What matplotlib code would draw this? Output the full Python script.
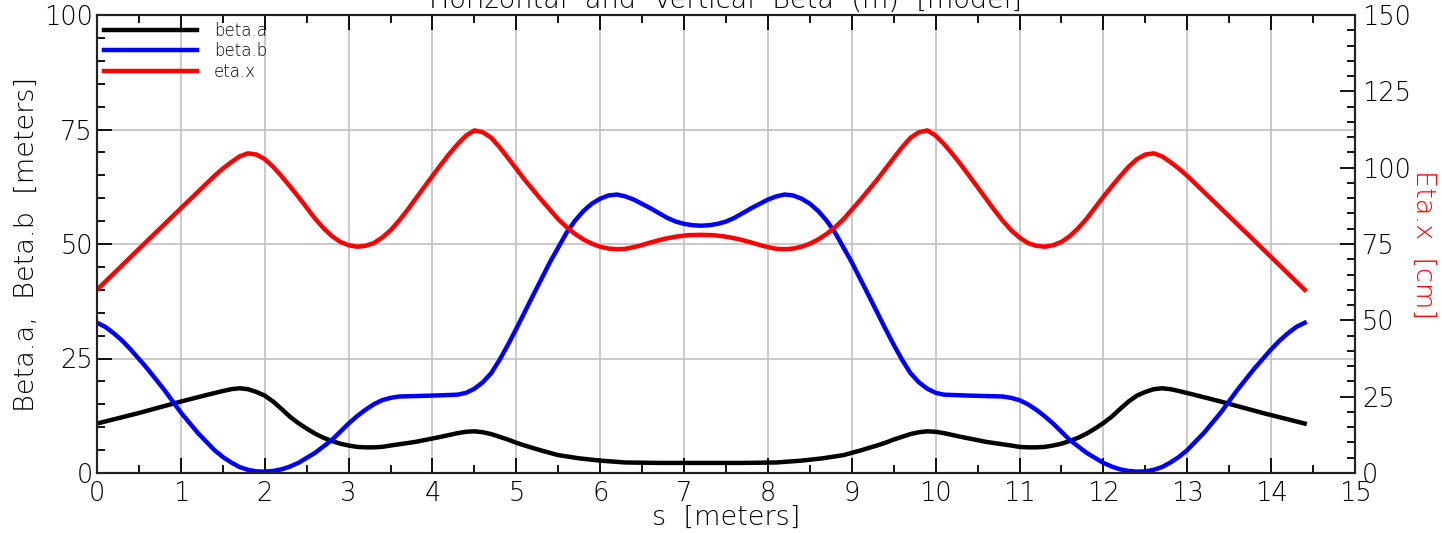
import matplotlib
matplotlib.use("Agg")
import matplotlib.pyplot as plt
from matplotlib.ticker import MultipleLocator

plt.rcParams['font.family'] = ['DejaVu Sans']
plt.rcParams['font.weight'] = 'light'
plt.rcParams['axes.labelweight'] = 'light'

# ---- data ----
s_a = [0.0, 0.5, 1.0, 1.3, 1.5, 1.6, 1.7, 1.8, 1.9, 2.0, 2.1, 2.2, 2.3, 2.4, 2.5, 2.6,
       2.7, 2.8, 2.9, 3.0, 3.1, 3.2, 3.3, 3.4, 3.5, 3.8, 4.1, 4.2, 4.3, 4.4, 4.5, 4.6,
       4.7, 4.8, 4.9, 5.0, 5.1, 5.3, 5.5, 5.75, 6.0, 6.3, 6.7, 7.2,
       7.7, 8.1, 8.4, 8.65, 8.9, 9.1, 9.3, 9.4, 9.5, 9.6, 9.7, 9.8, 9.9, 10.0, 10.1,
       10.2, 10.3, 10.6, 10.9, 11.0, 11.1, 11.2, 11.3, 11.4, 11.5, 11.6, 11.7, 11.8,
       11.9, 12.0, 12.1, 12.2, 12.3, 12.4, 12.5, 12.6, 12.7, 12.8, 12.9, 13.1, 13.4,
       13.9, 14.4]
beta_a = [10.8, 13.1, 15.6, 17.0, 17.9, 18.3, 18.5, 18.3, 17.7, 16.9, 15.6, 14.0, 12.3, 10.9, 9.7, 8.6,
          7.7, 7.0, 6.4, 6.0, 5.7, 5.6, 5.6, 5.7, 6.0, 6.8, 7.9, 8.3, 8.7, 9.0, 9.1, 8.9,
          8.5, 7.9, 7.3, 6.6, 6.0, 4.9, 3.9, 3.2, 2.7, 2.3, 2.2, 2.2,
          2.2, 2.3, 2.7, 3.2, 3.9, 4.9, 6.0, 6.6, 7.3, 7.9, 8.5, 8.9, 9.1, 9.0, 8.7,
          8.3, 7.9, 6.8, 6.0, 5.7, 5.6, 5.6, 5.7, 6.0, 6.4, 7.0, 7.7, 8.6,
          9.7, 10.9, 12.3, 14.0, 15.6, 16.9, 17.7, 18.3, 18.5, 18.3, 17.9, 17.0, 15.6,
          13.1, 10.8]

s_b = [0.0, 0.1, 0.2, 0.3, 0.4, 0.6, 0.8, 1.0, 1.2, 1.4, 1.5, 1.6, 1.7, 1.8, 1.9, 2.0,
       2.1, 2.2, 2.3, 2.4, 2.6, 2.8, 3.0, 3.1, 3.2, 3.3, 3.4, 3.5, 3.6, 4.0, 4.3, 4.4,
       4.5, 4.6, 4.7, 4.8, 4.9, 5.0, 5.2, 5.4, 5.6, 5.7, 5.8, 5.9, 6.0, 6.1, 6.2, 6.3,
       6.4, 6.6, 6.8, 6.9, 7.0, 7.1, 7.2,
       7.3, 7.4, 7.5, 7.6, 7.8, 8.0, 8.1, 8.2, 8.3, 8.4, 8.5, 8.6, 8.7, 8.8, 9.0, 9.2,
       9.4, 9.5, 9.6, 9.7, 9.8, 9.9, 10.0, 10.1, 10.4, 10.8, 10.9, 11.0, 11.1, 11.2,
       11.3, 11.4, 11.6, 11.8, 12.0, 12.1, 12.2, 12.3, 12.4, 12.5, 12.6, 12.7, 12.8,
       12.9, 13.0, 13.2, 13.4, 13.6, 13.8, 14.0, 14.1, 14.2, 14.3, 14.4]
beta_b = [32.8, 31.9, 30.5, 28.9, 27.0, 22.8, 18.2, 13.2, 8.8, 5.0, 3.5, 2.3, 1.3, 0.7, 0.35, 0.3,
          0.45, 0.8, 1.4, 2.2, 4.4, 7.2, 10.8, 12.4, 13.8, 15.0, 15.9, 16.4, 16.7, 16.9, 17.1, 17.5,
          18.4, 19.8, 21.8, 24.7, 28.0, 31.5, 38.8, 46.0, 52.5, 55.1, 57.2, 58.8, 59.9, 60.6, 60.8, 60.4,
          59.7, 57.8, 55.7, 54.9, 54.4, 54.1, 54.0,
          54.1, 54.4, 54.9, 55.7, 57.8, 59.7, 60.4, 60.8, 60.6, 59.9, 58.8, 57.2, 55.1, 52.5, 46.0, 38.8,
          31.5, 28.0, 24.7, 21.8, 19.8, 18.4, 17.5, 17.1, 16.9, 16.7, 16.4, 15.9, 15.0, 13.8,
          12.4, 10.8, 7.2, 4.4, 2.2, 1.4, 0.8, 0.45, 0.3, 0.35, 0.7, 1.3, 2.3,
          3.5, 5.0, 8.8, 13.2, 18.2, 22.8, 27.0, 28.9, 30.5, 31.9, 32.8]

s_x = [0.0, 0.5, 1.0, 1.4, 1.5, 1.6, 1.7, 1.8, 1.9, 2.0, 2.1, 2.2, 2.3, 2.4, 2.5, 2.6,
       2.7, 2.8, 2.9, 3.0, 3.1, 3.2, 3.3, 3.4, 3.5, 3.6, 3.7, 3.9, 4.1, 4.2, 4.3, 4.4,
       4.5, 4.6, 4.7, 4.8, 4.9, 5.1, 5.3, 5.5, 5.6, 5.7, 5.8, 5.9, 6.0, 6.1, 6.2, 6.3,
       6.45, 6.6, 6.75, 6.9, 7.05, 7.2,
       7.35, 7.5, 7.65, 7.8, 7.95, 8.1, 8.2, 8.3, 8.4, 8.5, 8.6, 8.7, 8.8, 8.9, 9.1,
       9.3, 9.5, 9.6, 9.7, 9.8, 9.9, 10.0, 10.1, 10.2, 10.3, 10.5, 10.7, 10.8, 10.9,
       11.0, 11.1, 11.2, 11.3, 11.4, 11.5, 11.6, 11.7, 11.8, 11.9, 12.0, 12.1, 12.2,
       12.3, 12.4, 12.5, 12.6, 12.7, 12.8, 12.9, 13.0, 13.4, 13.9, 14.4]
eta_x = [60.0, 73.4, 86.7, 97.3, 99.7, 101.8, 103.7, 104.7, 104.3, 102.8, 100.3, 97.2, 93.9, 90.5, 86.9, 83.3,
         80.2, 77.6, 75.7, 74.6, 74.1, 74.4, 75.3, 77.1, 79.5, 82.6, 86.1, 93.6, 101.0, 104.5, 107.7, 110.5,
         112.2, 111.6, 109.8, 106.7, 103.2, 96.0, 89.4, 83.1, 80.5, 78.3, 76.5, 75.1, 74.1, 73.5, 73.3, 73.4,
         74.3, 75.5, 76.6, 77.4, 77.9, 78.0,
         77.9, 77.4, 76.6, 75.5, 74.3, 73.4, 73.3, 73.5, 74.1, 75.1, 76.5, 78.3, 80.5, 83.1, 89.4,
         96.0, 103.2, 106.7, 109.8, 111.6, 112.2, 110.5, 107.7, 104.5, 101.0, 93.6, 86.1, 82.6, 79.5,
         77.1, 75.3, 74.4, 74.1, 74.6, 75.7, 77.6, 80.2, 83.3, 86.9, 90.5, 93.9, 97.2,
         100.3, 102.8, 104.3, 104.7, 103.7, 101.8, 99.7, 97.3, 86.7, 73.4, 60.0]

x_ticks = list(range(0, 16))
left_ticks = [0, 25, 50, 75, 100]
right_ticks = [0, 25, 50, 75, 100, 125, 150]

title = "Horizontal  and  Vertical  Beta  (m)  [model]"
xlabel = "s  [meters]"
ylabel_left = "Beta.a,  Beta.b  [meters]"
ylabel_right = "Eta.x  [cm]"

# ---- figure ----
fig = plt.figure(figsize=(14.42, 5.33), dpi=100)
ax = fig.add_axes([97 / 1442, 1 - 473 / 533, (1355 - 97) / 1442, (473 - 15) / 533])
ax2 = ax.twinx()

fs = 18.5
lfs = 19.5
tc = '#000000'
ax.plot(s_a, beta_a, color='black', lw=3.2, label='beta.a', solid_joinstyle='round')
ax.plot(s_b, beta_b, color='#0000ff', lw=3.2, label='beta.b', solid_joinstyle='round')
ln, = ax2.plot(s_x, eta_x, color='#ff0000', lw=3.2, label='eta.x', solid_joinstyle='round')

ax.set_xlim(0, 15)
ax.set_ylim(0, 100)
ax2.set_ylim(0, 150)

ax.set_xticks(x_ticks)
ax.xaxis.set_minor_locator(MultipleLocator(0.5))
ax.set_yticks(left_ticks)
ax.yaxis.set_minor_locator(MultipleLocator(5))
ax2.set_yticks(right_ticks)
ax2.yaxis.set_minor_locator(MultipleLocator(5))

ax.grid(True, which='major', color='#c0c0c0', lw=1.2)
ax.set_axisbelow(True)

ax.tick_params(axis='x', which='both', direction='in', top=True, bottom=True,
               labelsize=fs, pad=6, colors=tc)
ax.tick_params(axis='y', which='both', direction='in', left=True, right=False,
               labelsize=fs, pad=3, colors=tc)
ax.tick_params(which='major', length=11, width=1.3)
ax.tick_params(which='minor', length=6, width=1.3)
ax2.tick_params(axis='y', which='both', direction='in', labelsize=fs, pad=5, colors=tc)
ax2.tick_params(which='major', length=11, width=1.3)
ax2.tick_params(which='minor', length=6, width=1.3)

for a in (ax, ax2):
    for sp in a.spines.values():
        sp.set_color('#222222')
        sp.set_linewidth(1.5)

ax.set_xlabel(xlabel, fontsize=lfs, color=tc, labelpad=-1)
ax.set_ylabel(ylabel_left, fontsize=lfs, color=tc, labelpad=4)
ax2.set_ylabel(ylabel_right, fontsize=lfs, color='#ff0000', rotation=270, labelpad=18)

fig.text(0.503, 0.999, title, ha='center', va='center', fontsize=lfs, color=tc)

handles = ax.get_lines()[:2] + [ln]
ax.legend(handles=handles, labels=['beta.a', 'beta.b', 'eta.x'], loc='upper left',
          frameon=False, fontsize=12, handlelength=5.6, handletextpad=1.0,
          labelspacing=0.15, borderaxespad=0.2, borderpad=0.2)

fig.savefig('out.png', dpi=100)
